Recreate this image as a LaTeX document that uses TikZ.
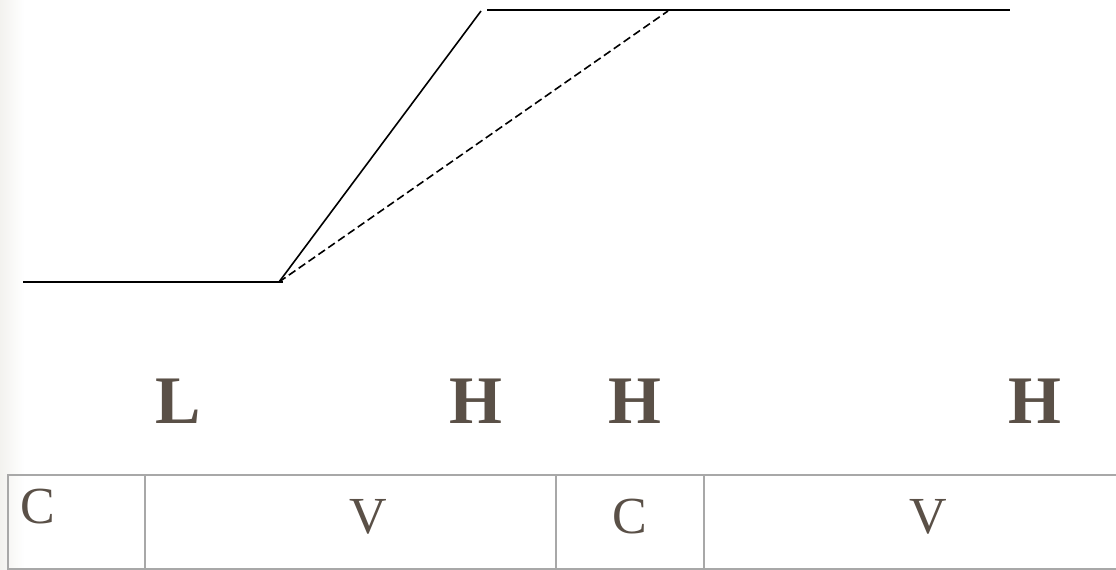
\documentclass[tikz,border=0pt]{standalone}
\usepackage{fontspec}
\setmainfont{Liberation Serif}
\definecolor{txt}{HTML}{5A5047}
\definecolor{grid}{HTML}{A8A8A8}
\definecolor{edge}{HTML}{F3F2EF}
\begin{document}
\begin{tikzpicture}[x=1pt,y=-1pt,
  tone/.style={font=\fontsize{68}{68}\selectfont\bfseries, text=txt, inner sep=0pt, anchor=base},
  cell/.style={font=\fontsize{52}{52}\selectfont, text=txt, inner sep=0pt, anchor=base},
  gridline/.style={draw=grid, line width=2pt},
  contour/.style={line width=1.6pt}]
\useasboundingbox (0,0) rectangle (1116,570);
\fill[white] (0,0) rectangle (1116,570);
\shade[left color=edge, right color=white] (0,0) rectangle (24,570);
% contour
\coordinate (a) at (23,282);
\coordinate (b) at (283,282);
\coordinate (c) at (279,282);
\coordinate (d) at (481,11);
\coordinate (e) at (487,10);
\coordinate (f) at (1010,10);
\coordinate (g) at (668,11);
\draw[contour] (a) -- (b);
\draw[contour] (c) -- (d);
\draw[contour] (e) -- (f);
\draw[contour, dashed, dash pattern=on 8pt off 4pt] (c) -- (g);
% tones
\node[tone] (L1) at (178,423) {L};
\node[tone] (H1) at (476,423) {H};
\node[tone] (H2) at (635,423) {H};
\node[tone] (H3) at (1035,423) {H};
% table
\coordinate (t1) at (7.5,475);
\coordinate (t2) at (1120,475);
\coordinate (b1) at (7.5,568.5);
\coordinate (b2) at (1120,568.5);
\draw[gridline] (t2) -- (t1) -- (b1) -- (b2);
\coordinate (v1t) at (145,475); \coordinate (v1b) at (145,568.5);
\coordinate (v2t) at (556,475); \coordinate (v2b) at (556,568.5);
\coordinate (v3t) at (704,475); \coordinate (v3b) at (704,568.5);
\draw[gridline] (v1t) -- (v1b);
\draw[gridline] (v2t) -- (v2b);
\draw[gridline] (v3t) -- (v3b);
\node[cell] (c1) at (38,523) {C};
\node[cell] (c2) at (368,533) {V};
\node[cell] (c3) at (630,533) {C};
\node[cell] (c4) at (928,533) {V};
\end{tikzpicture}
\end{document}
